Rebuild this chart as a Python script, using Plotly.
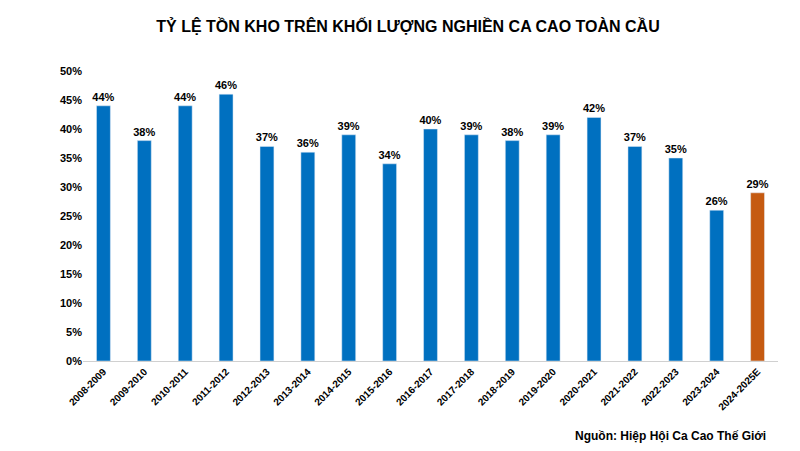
import plotly.graph_objects as go

categories = ["2008-2009","2009-2010","2010-2011","2011-2012","2012-2013","2013-2014","2014-2015","2015-2016","2016-2017","2017-2018","2018-2019","2019-2020","2020-2021","2021-2022","2022-2023","2023-2024","2024-2025E"]
values = [44,38,44,46,37,36,39,34,40,39,38,39,42,37,35,26,29]
colors = ["#0070C0"]*16 + ["#C55A11"]

fig = go.Figure(go.Bar(
    x=categories, y=values, marker_color=colors,
    text=[f"<b>{v}%</b>" for v in values], textposition="outside", constraintext="none",
    textfont=dict(size=11, color="black", family="Liberation Sans"),
    cliponaxis=False,
))
fig.update_layout(
    width=800, height=451, plot_bgcolor="white", paper_bgcolor="white",
    margin=dict(l=75, r=30, t=63, b=98, autoexpand=False),
    bargap=0.66, showlegend=False,
    font=dict(family="Liberation Sans", color="black"),
    title=dict(text="<b>TỶ LỆ TỒN KHO TRÊN KHỐI LƯỢNG NGHIỀN CA CAO TOÀN CẦU</b>",
               x=0.5, xanchor="center", y=0.96, yanchor="middle", font=dict(size=16)),
    annotations=[dict(text="<b>Nguồn: Hiệp Hội Ca Cao Thế Giới</b>", xref="paper", yref="paper",
                      x=0.985, xanchor="right", y=-0.26, yanchor="middle", showarrow=False,
                      font=dict(size=12))],
)
fig.update_yaxes(range=[0,50], showgrid=False, zeroline=False, automargin=False,
                 tickfont=dict(size=11), showline=False,
                 tickvals=list(range(0,51,5)), ticktext=[f"<b>{v}%</b>" for v in range(0,51,5)])
fig.update_xaxes(tickangle=-45, tickfont=dict(size=10), showline=True, linecolor="#d0d0d0",
                 automargin=False,
                 tickvals=categories, ticktext=[f"<b>{c}</b>" for c in categories])
fig.write_html("out.html")
